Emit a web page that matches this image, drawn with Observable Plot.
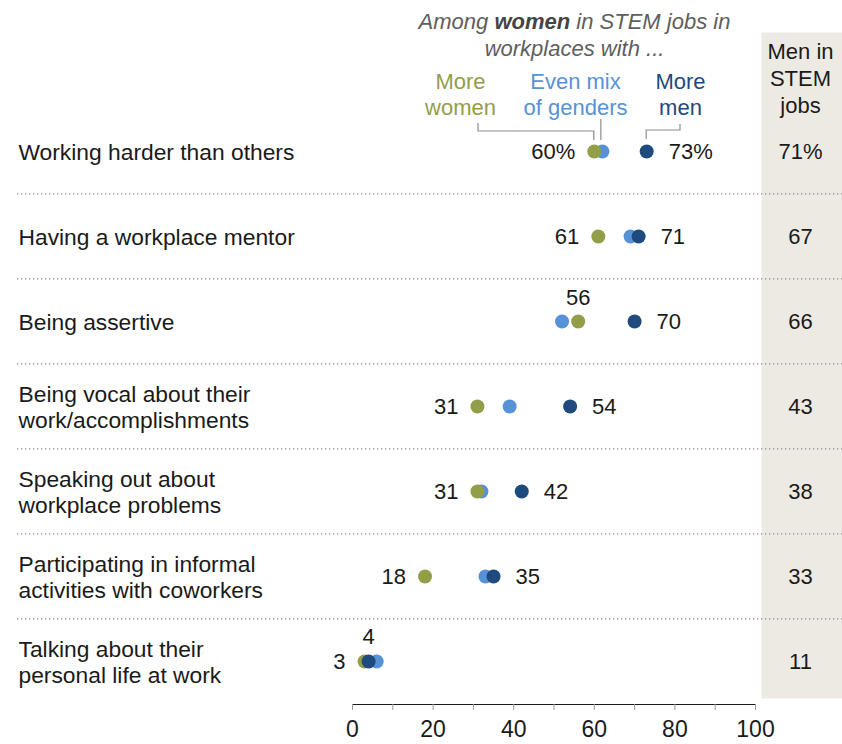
<!DOCTYPE html>
<html><head><meta charset="utf-8">
<script src="https://cdn.jsdelivr.net/npm/d3@7"></script>
<script src="https://cdn.jsdelivr.net/npm/@observablehq/plot@0.6"></script>
<style>
html,body{margin:0;padding:0;background:#fff;}
#chart{width:842px;height:744px;}
</style></head><body><div id="chart"></div>
<script>
// ---- data ----
const categories = [
  "Working harder than others",
  "Having a workplace mentor",
  "Being assertive",
  "Being vocal about their\nwork/accomplishments",
  "Speaking out about\nworkplace problems",
  "Participating in informal\nactivities with coworkers",
  "Talking about their\npersonal life at work"
];
const moreWomen = [60, 61, 56, 31, 31, 18, 3];
const evenMix   = [62, 69, 52, 39, 32, 33, 6];
const moreMen   = [73, 71, 70, 54, 42, 35, 4];
const menInStem = [71, 67, 66, 43, 38, 33, 11];
const seriesLabels = ["More\nwomen", "Even mix\nof genders", "More\nmen"];
const headerLines = ["Among ", "women", " in STEM jobs in", "workplaces with ..."];
const menHeader = "Men in\nSTEM\njobs";
const xTicks = [0, 10, 20, 30, 40, 50, 60, 70, 80, 90, 100];

// ---- styles ----
const colors = {women: "#949d48", even: "#5892d6", men: "#1f4a7e"};
const FONT = "'Liberation Sans', Arial, Helvetica, sans-serif";
const W = 842, H = 744, mL = 352, mR = 87, mT = 107, mB = 40;
const step = (H - mT - mB) / categories.length;

const fmt = (v, i) => i === 0 ? v + "%" : String(v);
const rows = categories.map((c, i) => ({
  cat: c, i, women: moreWomen[i], even: evenMix[i], men: moreMen[i], stem: menInStem[i]
}));
const dots = [];
for (const r of rows) {
  dots.push({cat: r.cat, v: r.even, s: "even"});
  dots.push({cat: r.cat, v: r.women, s: "women"});
  dots.push({cat: r.cat, v: r.men, s: "men"});
}
const womenLeft = rows.filter(r => r.even >= r.women);
const womenAbove = rows.filter(r => r.even < r.women);
const menRight = rows.filter(r => r.men >= r.even);
const menAbove = rows.filter(r => r.men < r.even);
const headerText = headerLines[0] + headerLines[1] + headerLines[2] + "\n" + headerLines[3];

const plot = Plot.plot({
  width: W, height: H,
  marginLeft: mL, marginRight: mR, marginTop: mT, marginBottom: mB,
  style: {fontFamily: FONT, fontSize: "22px", color: "#1a1a1a", background: "#fff"},
  x: {domain: [0, 100], ticks: xTicks, tickFormat: d => d % 20 === 0 ? d : "", tickSize: 6, tickPadding: 10, line: true, label: null},
  y: {type: "point", domain: categories, padding: 0.5, axis: null},
  marks: [
    Plot.frame({fill: "#edeae3", stroke: null, insetLeft: 409, insetRight: -mR, insetTop: -75, insetBottom: 6}),
    Plot.ruleY(categories.slice(1), {y: d => d, dy: -step / 2, stroke: "#8a8a8a", strokeWidth: 1.1, strokeDasharray: "1.3 2.7", insetLeft: -(mL - 17), insetRight: -mR}),
    Plot.text(rows, {y: "cat", text: "cat", frameAnchor: "left", dx: -(mL - 18), textAnchor: "start", lineHeight: 26 / 22.8, fontSize: 22.8, fill: "#1a1a1a"}),
    Plot.dot(dots, {x: "v", y: "cat", r: 7, fill: d => colors[d.s], stroke: null}),
    Plot.text(womenLeft, {x: "women", y: "cat", text: d => fmt(d.women, d.i), textAnchor: "end", dx: -19, fontSize: 22, fill: "#1a1a1a"}),
    Plot.text(womenAbove, {x: "women", y: "cat", text: d => fmt(d.women, d.i), textAnchor: "middle", dy: -24, fontSize: 22, fill: "#1a1a1a"}),
    Plot.text(menRight, {x: "men", y: "cat", text: d => fmt(d.men, d.i), textAnchor: "start", dx: 22, fontSize: 22, fill: "#1a1a1a"}),
    Plot.text(menAbove, {x: "men", y: "cat", text: d => fmt(d.men, d.i), textAnchor: "middle", dy: -25, fontSize: 22, fill: "#1a1a1a"}),
    Plot.text(rows, {y: "cat", text: d => fmt(d.stem, d.i), frameAnchor: "right", dx: 45, textAnchor: "middle", fontSize: 22, fill: "#1a1a1a"}),
    // headers
    Plot.text([headerText], {frameAnchor: "top", dx: 20.5, dy: -74, lineAnchor: "middle", text: d => d, fontSize: 22, fontStyle: "italic", lineHeight: 27 / 22, fill: "#5e5e5e"}),
    Plot.text([seriesLabels[0]], {frameAnchor: "top", dx: 460 - 553.5, dy: -14, lineAnchor: "middle", text: d => d, fontSize: 22, lineHeight: 26 / 22, fill: colors.women}),
    Plot.text([seriesLabels[1]], {frameAnchor: "top", dx: 575 - 553.5, dy: -14, lineAnchor: "middle", text: d => d, fontSize: 22, lineHeight: 26 / 22, fill: colors.even}),
    Plot.text([seriesLabels[2]], {frameAnchor: "top", dx: 680 - 553.5, dy: -14, lineAnchor: "middle", text: d => d, fontSize: 22, lineHeight: 26 / 22, fill: colors.men}),
    Plot.text([menHeader], {frameAnchor: "top-right", dx: 45, dy: -30, textAnchor: "middle", lineAnchor: "middle", text: d => d, fontSize: 22, lineHeight: 27 / 22, fill: "#1a1a1a"})
  ]
});

document.getElementById("chart").appendChild(plot);

// axis: gray lines, larger labels
d3.select(plot).selectAll("[aria-label^='x-axis'] path, [aria-label^='x-axis'] line").attr("stroke", "#9a9a9a");
d3.select(plot).selectAll("[aria-label^='x-axis'] text").attr("font-size", 23).attr("fill", "#1a1a1a");

// bold "women" in the header's first line
d3.select(plot).selectAll("tspan").each(function () {
  if (this.textContent === headerLines[0] + headerLines[1] + headerLines[2]) {
    const t = d3.select(this);
    t.text("");
    t.append("tspan").text(headerLines[0]);
    t.append("tspan").attr("font-weight", "bold").attr("fill", "#444").text(headerLines[1]);
    t.append("tspan").text(headerLines[2]);
  }
});

// brackets linking legend labels to the first row's dots
const xs = plot.scale("x"), ys = plot.scale("y");
const X = v => xs.apply(v), yc = ys.apply(categories[0]);
const g = d3.select(plot).append("g").attr("fill", "none").attr("stroke", "#8c8c8c").attr("stroke-width", 1.2);
g.append("path").attr("d", `M${460 + 18},${yc - 28}V${yc - 20}H${X(moreWomen[0])}V${yc - 11}`);
g.append("path").attr("d", `M${X(evenMix[0]) - 1},${yc - 32}V${yc - 11}`);
g.append("path").attr("d", `M680,${yc - 27}V${yc - 21}H${X(moreMen[0])}V${yc - 12}`);
</script>
</body></html>
